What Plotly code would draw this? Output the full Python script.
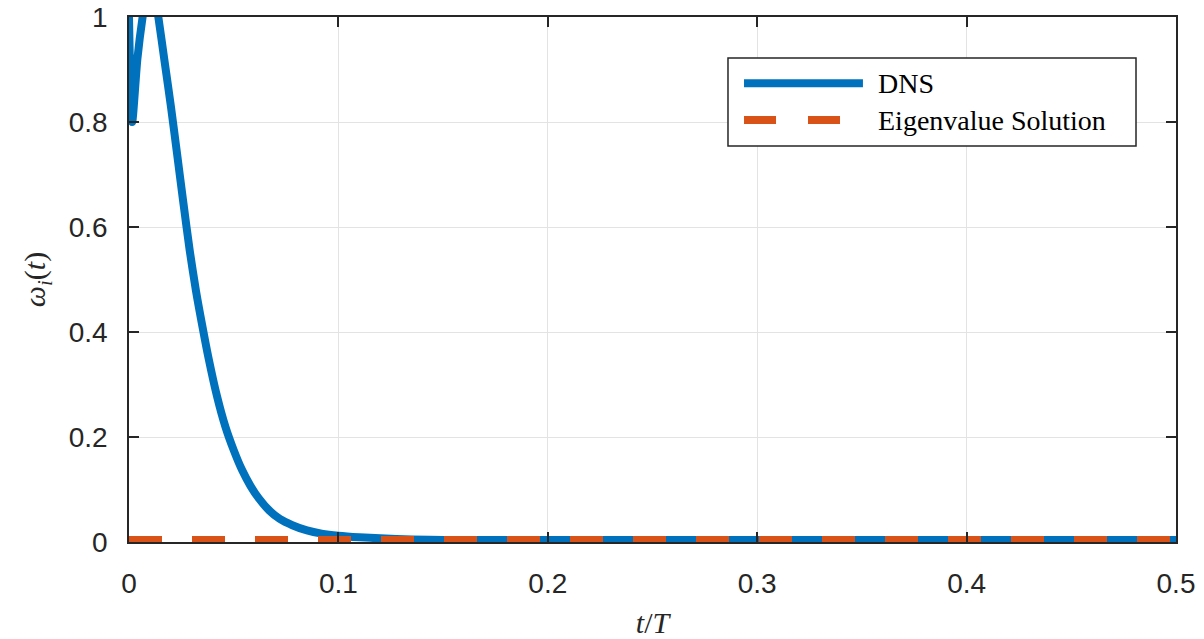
import plotly.graph_objects as go

# DNS series (t/T, omega_i)
t_dns = [0, 0.0015, 0.004, 0.0065, 0.009, 0.0115, 0.014, 0.017, 0.020, 0.023,
         0.026, 0.029, 0.032, 0.035, 0.038, 0.042, 0.046, 0.050, 0.054, 0.058,
         0.062, 0.067, 0.072, 0.078, 0.085, 0.092, 0.100, 0.110, 0.120, 0.135,
         0.150, 0.200, 0.300, 0.400, 0.500]
w_dns = [1.0, 0.80, 0.92, 1.0, 1.06, 1.06, 1.0, 0.915, 0.83, 0.738,
         0.645, 0.555, 0.478, 0.412, 0.350, 0.278, 0.220, 0.175, 0.137, 0.107,
         0.083, 0.060, 0.044, 0.032, 0.022, 0.016, 0.012, 0.009, 0.007, 0.005,
         0.004, 0.004, 0.004, 0.004, 0.004]

# Eigenvalue solution
t_eig = [0, 0.5]
w_eig = [0.004, 0.004]

series_names = ["DNS", "Eigenvalue Solution"]

x_ticks = [0, 0.1, 0.2, 0.3, 0.4, 0.5]
x_ticktext = ["0", "0.1", "0.2", "0.3", "0.4", "0.5"]
y_ticks = [0, 0.2, 0.4, 0.6, 0.8, 1.0]
y_ticktext = ["0", "0.2", "0.4", "0.6", "0.8", "1"]

BLUE = "#0072BD"
ORANGE = "#D95319"
AX = "#262626"
DASH = "33px,30px"

fig = go.Figure()
fig.add_trace(go.Scatter(x=t_dns, y=w_dns, mode="lines", name=series_names[0],
                         line=dict(color=BLUE, width=8, shape="spline", smoothing=0.7),
                         showlegend=False))
fig.add_trace(go.Scatter(x=t_eig, y=w_eig, mode="lines", name=series_names[1],
                         line=dict(color=ORANGE, width=8, dash=DASH),
                         showlegend=False))

axis_common = dict(showline=True, linecolor=AX, linewidth=1.5, mirror="ticks",
                   ticks="inside", ticklen=10, tickwidth=1.5, tickcolor=AX,
                   showgrid=True, gridcolor="#e3e3e3", gridwidth=1.2,
                   zeroline=False, automargin=False,
                   tickfont=dict(family="Liberation Sans, Arial, sans-serif", size=28, color=AX))

fig.update_xaxes(range=[0, 0.5], tickvals=x_ticks, ticktext=x_ticktext,
                 ticklabelstandoff=16,
                 title=dict(text="<i>t</i>/<i>T</i>", standoff=16,
                            font=dict(family="Liberation Serif, serif", size=30, color=AX)),
                 **axis_common)
fig.update_yaxes(range=[0, 1], tickvals=y_ticks, ticktext=y_ticktext,
                 ticklabelstandoff=14,
                 title=dict(text="<i>ω<sub>i</sub></i>(<i>t</i>)", standoff=14,
                            font=dict(family="Liberation Serif, serif", size=30, color=AX)),
                 **axis_common)

# Legend (drawn manually so the line samples are as long as in the reference)
lx0, lx1, ly0, ly1 = 0.5721, 0.9618, 0.7543, 0.9219
sx0, sx1 = 0.5874, 0.7010
rows = [0.8737, 0.8038]
tx = 0.7135
shapes = [dict(type="rect", xref="paper", yref="paper", x0=lx0, x1=lx1, y0=ly0, y1=ly1,
               fillcolor="white", line=dict(color=AX, width=1.5))]
shapes.append(dict(type="line", xref="paper", yref="paper", x0=sx0, x1=sx1,
                   y0=rows[0], y1=rows[0], line=dict(color=BLUE, width=8)))
shapes.append(dict(type="line", xref="paper", yref="paper", x0=sx0, x1=sx1,
                   y0=rows[1], y1=rows[1], line=dict(color=ORANGE, width=8, dash="32px,32px")))
annotations = []
for name, ry in zip(series_names, rows):
    annotations.append(dict(xref="paper", yref="paper", x=tx, y=ry, text=name,
                            showarrow=False, xanchor="left", yanchor="middle",
                            font=dict(family="Liberation Serif, serif", size=28, color="#000000")))

fig.update_layout(
    width=1204, height=639,
    margin=dict(l=129, r=28, t=17, b=97, autoexpand=False),
    plot_bgcolor="white", paper_bgcolor="white",
    shapes=shapes, annotations=annotations,
    showlegend=False,
)

fig.write_html("out.html")
